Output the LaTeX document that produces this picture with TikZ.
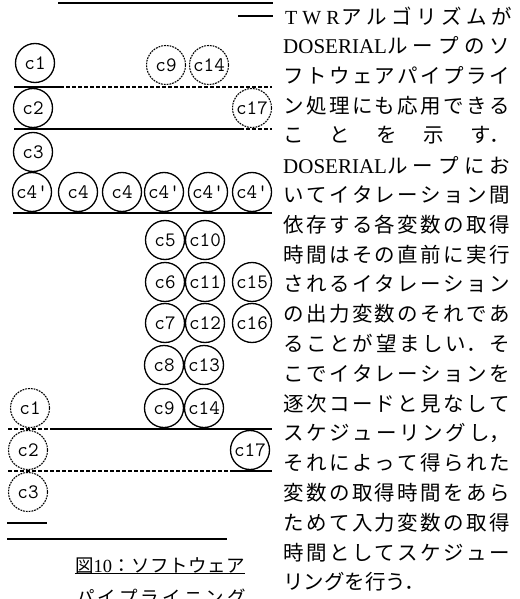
\documentclass[tikz,border=0pt]{standalone}
\usepackage{fontspec}
\newfontfamily\jfont{Noto Sans CJK JP}
\newfontfamily\lat{Liberation Serif}
\XeTeXlinebreaklocale "ja"
\XeTeXlinebreakskip=0pt plus 4pt
\newcommand\cfont{\ttfamily\fontsize{20.5}{20.5}\selectfont\addfontfeatures{FakeBold=3}}
\newcommand\bodyfont{\jfont\fontsize{20.5}{24}\selectfont}
\newcommand\jline[1]{\noindent\tolerance=10000\hbadness=10000\leftskip=0pt\rightskip=0pt\parfillskip=0pt\relax #1\par}
\newcommand\dos{{\lat\fontsize{21}{22}\selectfont DOSERIAL}}
\begin{document}
\begin{tikzpicture}[x=1pt,y=-1pt,
  cnode/.style={circle, draw, line width=1.3pt, minimum size=39pt, inner sep=0pt, font=\cfont},
  dnode/.style={cnode, line width=1.1pt, dash pattern=on 1.8pt off 1pt},
  sline/.style={line width=1.3pt},
  dline/.style={line width=1.1pt, dash pattern=on 4pt off 2pt},
  jt/.style={anchor=west, inner sep=0pt, text width=227pt, font=\bodyfont},
  capt/.style={inner sep=0pt, text width=170pt, font=\jfont\fontsize{18.5}{22}\selectfont}]
\useasboundingbox (0,0) rectangle (519,599);

% horizontal rules
\draw[sline] (58,3) -- (273,3);
\draw[sline] (238,16) -- (273,16);
\draw[sline] (14,87) -- (60,87);
\draw[dline] (60,87) -- (272,87);
\draw[sline] (14,129) -- (240,129);
\draw[dline] (240,129) -- (272,129);
\draw[sline] (13,213) -- (272,213);
\draw[dline] (8,429) -- (50,429);
\draw[sline] (50,429) -- (272,429);
\draw[dline] (8,471) -- (233,471);
\draw[sline] (233,471) -- (272,471);
\draw[sline] (7,523) -- (47,523);
\draw[sline] (7,539) -- (227,539);

% upper iteration
\node[cnode] (u1) at (35,63) {c1};
\node[dnode] (u9) at (166,65) {c9};
\node[dnode] (u14) at (209,65) {c14};
\node[cnode] (u2) at (33,108) {c2};
\node[dnode] (u17) at (252,108) {c17};
\node[cnode] (u3) at (33,152) {c3};

% c4 row
\node[cnode] (r1) at (32,192) {c4'};
\node[cnode] (r2) at (78,192) {c4};
\node[cnode] (r3) at (122,192) {c4};
\node[cnode] (r4) at (164,192) {c4'};
\node[cnode] (r5) at (208,192) {c4'};
\node[cnode] (r6) at (252,192) {c4'};

% middle block
\node[cnode] (m5) at (165,240) {c5};
\node[cnode] (m10) at (205,240) {c10};
\node[cnode] (m6) at (165,282) {c6};
\node[cnode] (m11) at (205,282) {c11};
\node[cnode] (m15) at (252,282) {c15};
\node[cnode] (m7) at (165,323) {c7};
\node[cnode] (m12) at (205,323) {c12};
\node[cnode] (m16) at (252,323) {c16};
\node[cnode] (m8) at (164,365) {c8};
\node[cnode] (m13) at (204,365) {c13};
\node[cnode] (m9) at (164,408) {c9};
\node[cnode] (m14) at (204,408) {c14};

% lower iteration
\node[dnode] (l1) at (30,408) {c1};
\node[dnode] (l2) at (28,450) {c2};
\node[cnode] (l17) at (250,450) {c17};
\node[dnode] (l3) at (28,492) {c3};

% caption
\node[capt] (cap1) at (160,566) {\jline{図{\lat 10}：ソフトウェア}};
\draw[line width=0.9pt] ([yshift=1pt]cap1.south west) -- ([yshift=1pt]cap1.south east);
\node[capt] (cap2) at (161,597) {\jline{パイプライニング}};

% body text
\node[jt] (t1) at (285,16) {\jline{{\lat\fontsize{20}{20}\selectfont T\hspace{5pt}W\hspace{5pt}R}\hspace{2pt}アルゴリズムが}};
\node[jt] (t2) at (283,45.8) {\jline{\dos ループのソ}};
\node[jt] (t3) at (283,75.6) {\jline{フトウェアパイプライ}};
\node[jt] (t4) at (283,105.4) {\jline{ン処理にも応用できる}};
\node[jt] (t5) at (283,135.2) {\jline{ことを示す．}};
\node[jt] (t6) at (283,165) {\jline{\dos ループにお}};
\node[jt] (t7) at (283,194.8) {\jline{いてイタレーション間}};
\node[jt] (t8) at (283,224.6) {\jline{依存する各変数の取得}};
\node[jt] (t9) at (283,254.4) {\jline{時間はその直前に実行}};
\node[jt] (t10) at (283,284.2) {\jline{されるイタレーション}};
\node[jt] (t11) at (283,314) {\jline{の出力変数のそれであ}};
\node[jt] (t12) at (283,343.8) {\jline{ることが望ましい．そ}};
\node[jt] (t13) at (283,373.6) {\jline{こでイタレーションを}};
\node[jt] (t14) at (283,403.4) {\jline{逐次コードと見なして}};
\node[jt] (t15) at (283,433.2) {\jline{スケジューリングし，}};
\node[jt] (t16) at (283,463) {\jline{それによって得られた}};
\node[jt] (t17) at (283,492.8) {\jline{変数の取得時間をあら}};
\node[jt] (t18) at (283,522.6) {\jline{ためて入力変数の取得}};
\node[jt] (t19) at (283,552.4) {\jline{時間としてスケジュー}};
\node[jt] (t20) at (283,582.2) {リングを行う．};
\end{tikzpicture}
\end{document}
